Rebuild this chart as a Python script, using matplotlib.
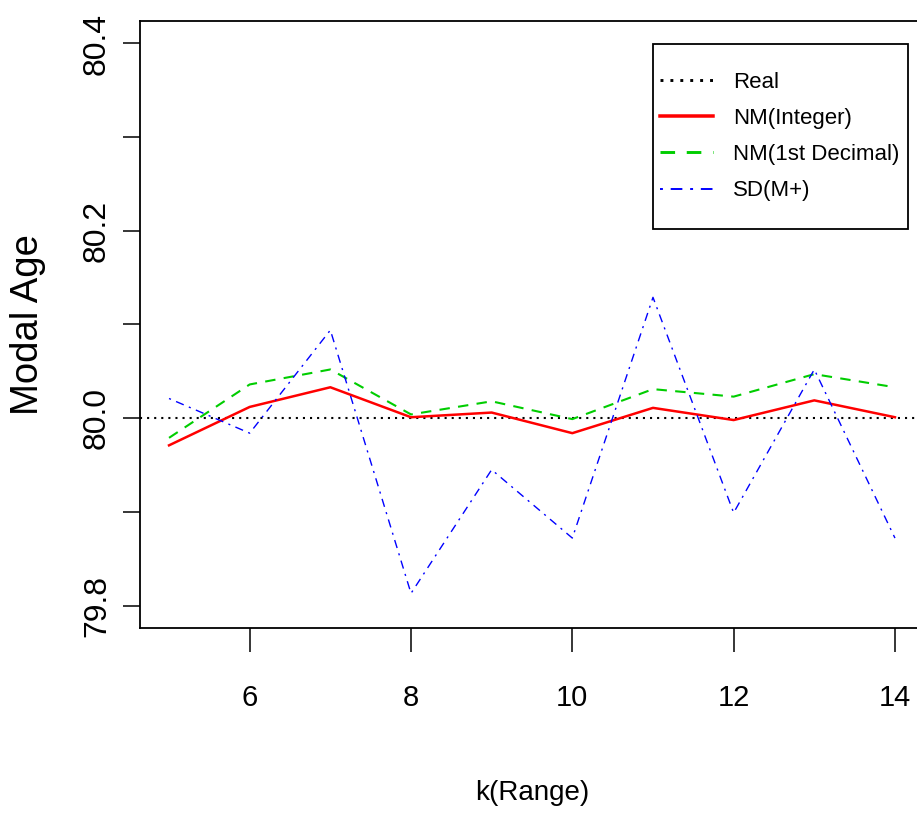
import matplotlib
matplotlib.use("Agg")
import matplotlib.pyplot as plt
from matplotlib.patches import Rectangle
from matplotlib.ticker import MultipleLocator, FixedLocator

plt.rcParams['font.family'] = ['Liberation Sans', 'DejaVu Sans']

# Data
k_range = [5, 6, 7, 8, 9, 10, 11, 12, 13, 14]
real_value = 80.0
nm_integer = [79.971, 80.012, 80.033, 80.001, 80.006, 79.984, 80.011, 79.998, 80.019, 80.001]
nm_first_decimal = [79.979, 80.036, 80.052, 80.004, 80.018, 79.999, 80.031, 80.023, 80.047, 80.033]
sd_m_plus = [80.021, 79.984, 80.094, 79.813, 79.945, 79.872, 80.129, 79.899, 80.052, 79.872]

x_ticks = [6, 8, 10, 12, 14]
y_major = [79.8, 80.0, 80.2, 80.4]
y_labels = ['79.8', '80.0', '80.2', '80.4']

W, H = 917, 813
fig = plt.figure(figsize=(W / 100, H / 100), dpi=100)
ax = fig.add_axes([140 / W, 1 - 628 / H, (924 - 140) / W, (628 - 21) / H])

ax.axhline(real_value, color='black', lw=1.5, ls=(0, (1, 2.4)), label='Real')
ax.plot(k_range, nm_integer, color='#FF0000', lw=1.8, label='NM(Integer)')
ax.plot(k_range, nm_first_decimal, color='#00CD00', lw=1.5, ls=(0, (5, 4)),
        label='NM(1st Decimal)')
ax.plot(k_range, sd_m_plus, color='#0000FF', lw=1.0, ls=(0, (1.5, 4, 6, 4)),
        label='SD(M+)')

# R-style 4% padding around the range
ax.set_xlim(5 - 0.36, 14 + 0.36)
ax.set_ylim(79.8 - 0.024, 80.4 + 0.024)

ax.xaxis.set_major_locator(FixedLocator(x_ticks))
ax.set_xticklabels([str(t) for t in x_ticks], fontsize=21)
ax.yaxis.set_major_locator(FixedLocator(y_major))
ax.yaxis.set_minor_locator(MultipleLocator(0.1))
ax.set_yticklabels(y_labels, rotation=90, va='center', fontsize=23)

ax.tick_params(axis='x', length=17.3, width=1.1, pad=23)
ax.tick_params(axis='y', which='both', length=12.2, width=1.1, pad=8)
for s in ax.spines.values():
    s.set_linewidth(1.3)

ax.set_xlabel('k(Range)', fontsize=20)
ax.xaxis.set_label_coords(0.5, (628 - 793) / 607)
ax.xaxis.label.set_va('center')
ax.set_ylabel('Modal Age', fontsize=27.5)
ax.yaxis.set_label_coords((28 - 140) / 784, 0.5)
ax.yaxis.label.set_va('center')

# legend entries without frame, box drawn separately to match the R layout
leg = ax.legend(loc='upper left', bbox_to_anchor=(660 / W, 1 - 72 / H),
                bbox_transform=fig.transFigure, frameon=False, fontsize=16,
                handlelength=2.4, handletextpad=0.9, labelspacing=0.68,
                borderpad=0, borderaxespad=0)
for line in leg.get_lines():
    line.set_linewidth(line.get_linewidth() * 1.4)
fig.add_artist(Rectangle((653 / W, 1 - 229 / H), 255 / W, 185 / H,
                         transform=fig.transFigure, fill=False,
                         edgecolor='black', lw=1.3))

fig.savefig('out.png', dpi=100)
